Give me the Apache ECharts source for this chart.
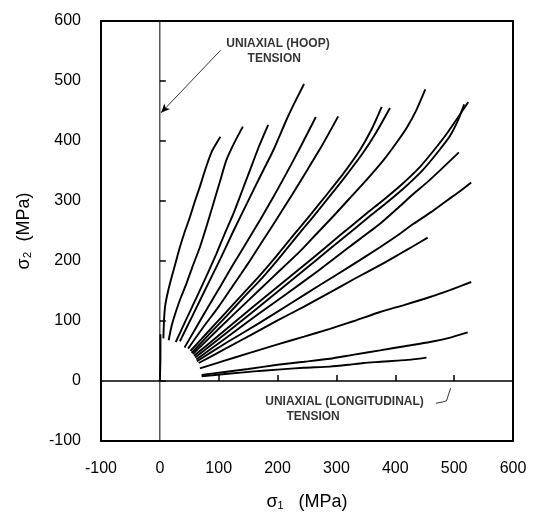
<!DOCTYPE html>
<html>
<head>
<meta charset="utf-8">
<title>Biaxial stress paths</title>
<script src="https://cdn.jsdelivr.net/npm/echarts@6/dist/echarts.min.js"></script>
<style>
  html, body { margin: 0; padding: 0; background: #fff; }
  #chart { width: 535px; height: 526px; }
</style>
</head>
<body>
<div id="chart"></div>
<script>
// axis ticks, MPa
const xTicks = [-100, 0, 100, 200, 300, 400, 500, 600];
const yTicks = [-100, 0, 100, 200, 300, 400, 500, 600];

const path01 = [[6,71],[7,100],[9,125],[14,150],[20,173],[27,198],[34,223],[42,248],[51,273],[59,298],[68,324],[78,355],[88,382],[96,396],[103,407]];
const path02 = [[15,68],[20,92],[28,118],[36,140],[45,162],[56,192],[68,223],[80,260],[91,296],[102,332],[113,368],[127,398],[141,424]];
const path03 = [[27,65],[36,84],[45,103],[56,126],[68,151],[82,181],[96,212],[110,245],[125,279],[139,315],[153,351],[168,390],[184,427]];
const path04 = [[34,66],[57,112],[80,158],[103,204],[125,250],[148,296],[170,340],[193,385],[215,435],[230,466],[245,495]];
const path05 = [[42,56],[61,88],[80,120],[103,158],[125,195],[148,232],[170,268],[193,307],[215,346],[240,392],[265,440]];
const path06 = [[48,54],[74,90],[100,124],[125,160],[150,196],[175,234],[200,272],[225,311],[250,351],[277,395],[303,441]];
const path07a = [[52,50],[80,80],[110,112],[140,144],[170,176],[198,208],[227,243],[255,276],[283,310],[312,346],[340,385],[360,420],[377,457]];
const path07b = [[54,47],[84,78],[114,109],[144,141],[174,172],[202,204],[231,239],[259,272],[287,306],[316,342],[345,380],[368,415],[391,455]];
const path08 = [[56,45],[100,87],[150,134],[195,176],[238,216],[266,245],[295,275],[323,305],[352,336],[380,368],[402,397],[420,423],[436,452],[451,486]];
const path09a = [[58,42],[110,84],[160,125],[210,165],[260,205],[305,242],[351,279],[374,297],[408,325],[442,357],[466,385],[488,413],[507,440],[524,465]];
const path09b = [[60,39],[114,81],[165,121],[215,161],[265,201],[310,237],[356,274],[379,292],[413,320],[447,352],[471,380],[492,407],[506,433],[517,461]];
const path10 = [[62,36],[110,70],[165,110],[215,145],[268,183],[320,222],[374,262],[403,287],[431,312],[454,331],[476,351],[492,366],[508,381]];
const path11 = [[63,33],[115,65],[168,96],[220,128],[272,160],[323,191],[374,223],[403,242],[431,262],[460,281],[488,301],[508,315],[529,331]];
const path12 = [[66,30],[110,53],[155,77],[200,101],[245,124],[290,148],[330,170],[374,193],[408,212],[431,225],[455,239]];
const path13 = [[68,21],[110,34],[150,46],[200,61],[245,74],[289,87],[330,100],[374,115],[416,127],[459,140],[494,152],[529,165]];
const path14 = [[71,10],[110,15],[150,20],[200,27],[245,32],[289,37],[330,44],[374,51],[416,58],[459,65],[492,72],[523,81]];
const path15 = [[71,8],[115,12],[160,16],[200,19],[245,22],[289,24],[320,27],[346,30],[375,32],[403,34],[430,36],[453,39]];
// uniaxial hoop test lies on the sigma1 = 0 axis
const hoopPath = [[0,0],[1,40],[1,78]];

const stressPaths = [path01, path02, path03, path04, path05, path06, path07a, path07b,
  path08, path09a, path09b, path10, path11, path12, path13, path14, path15, hoopPath];

const ink = '#000';
const fontFamily = '"Liberation Sans", Arial, sans-serif';

const series = stressPaths.map((pts, i) => ({
  name: 'path' + (i + 1),
  type: 'line',
  data: pts,
  showSymbol: false,
  smooth: 0.2,
  silent: true,
  lineStyle: { color: ink, width: 1.9 }
}));

// zero reference lines
series.push({
  type: 'line',
  data: [[0, yTicks[0]], [0, yTicks[yTicks.length - 1]]],
  showSymbol: false,
  silent: true,
  lineStyle: { color: ink, width: 1 }
});
series.push({
  type: 'line',
  data: [[xTicks[0], 0], [xTicks[xTicks.length - 1], 0]],
  showSymbol: false,
  silent: true,
  lineStyle: { color: ink, width: 1.5 }
});

// annotations
const noteStyle = { color: ink, fontSize: 12, fontWeight: 'bold', fontFamily: fontFamily };
series.push({
  type: 'scatter',
  symbolSize: 0,
  silent: true,
  data: [
    { value: [113, 563], name: 'UNIAXIAL (HOOP)' },
    { value: [149, 537], name: 'TENSION' },
    { value: [179, -35], name: 'UNIAXIAL (LONGITUDINAL)' },
    { value: [215, -60], name: 'TENSION' }
  ],
  label: {
    show: true,
    position: 'inside',
    align: 'left',
    verticalAlign: 'middle',
    formatter: p => p.name,
    ...noteStyle
  },
  markLine: {
    silent: true,
    symbol: ['none', 'arrow'],
    symbolSize: [6, 9],
    label: { show: false },
    lineStyle: { color: ink, width: 0.8, type: 'solid' },
    data: [
      [{ coord: [103, 551] }, { coord: [2, 447] }]
    ]
  }
});
// little hooked pointer to the longitudinal axis
series.push({
  type: 'line',
  data: [[469, -37], [480, -35], [487, -33], [494, -12]],
  showSymbol: false,
  silent: true,
  lineStyle: { color: ink, width: 0.8 }
});

const chart = echarts.init(document.getElementById('chart'), null, { renderer: 'canvas' });

chart.setOption({
  backgroundColor: '#fff',
  animation: false,
  grid: {
    left: 101, right: 22, top: 21, bottom: 85,
    show: true,
    borderColor: ink,
    borderWidth: 2
  },
  xAxis: {
    type: 'value',
    min: xTicks[0],
    max: xTicks[xTicks.length - 1],
    interval: 100,
    name: 'σ\u2081   (MPa)',
    nameLocation: 'middle',
    nameGap: 52,
    nameTextStyle: { color: ink, fontSize: 18, fontFamily: fontFamily },
    axisLine: { show: false },
    axisTick: { show: true, inside: true, length: 6, lineStyle: { color: ink, width: 1.5 } },
    axisLabel: {
      color: ink, fontSize: 16, fontFamily: fontFamily, margin: 20,
      showMinLabel: true, showMaxLabel: true
    },
    splitLine: { show: false }
  },
  yAxis: {
    type: 'value',
    min: yTicks[0],
    max: yTicks[yTicks.length - 1],
    interval: 100,
    name: 'σ\u2082  (MPa)',
    nameLocation: 'middle',
    nameRotate: 90,
    nameGap: 68,
    nameTextStyle: { color: ink, fontSize: 18, fontFamily: fontFamily },
    axisLine: { show: false },
    axisTick: { show: true, inside: true, length: 6, lineStyle: { color: ink, width: 1.5 } },
    axisLabel: {
      color: ink, fontSize: 16, fontFamily: fontFamily, margin: 20,
      showMinLabel: true, showMaxLabel: true
    },
    splitLine: { show: false }
  },
  series: series
});
</script>
</body>
</html>
